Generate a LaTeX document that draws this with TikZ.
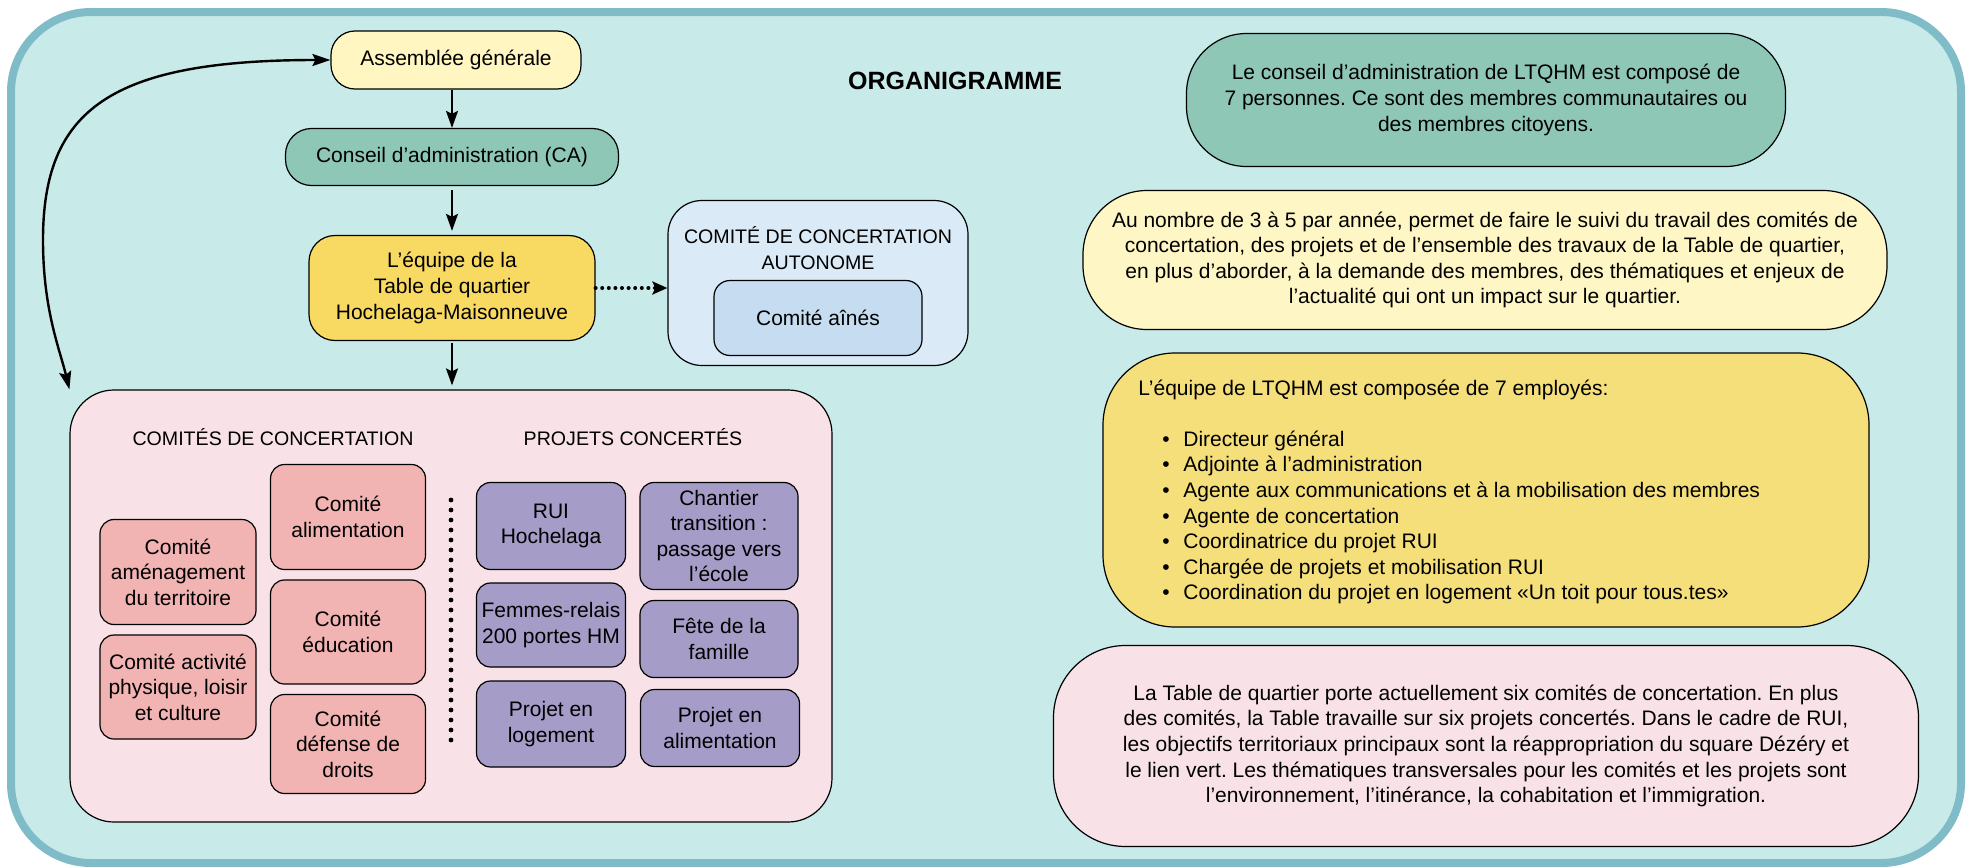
\documentclass[tikz,border=0pt]{standalone}
\usepackage{fontspec}
\setmainfont{Liberation Sans}
\usetikzlibrary{arrows.meta}
\frenchspacing
\definecolor{bgc}{HTML}{C8EAE9}
\definecolor{brd}{HTML}{7FBCC8}
\definecolor{agc}{HTML}{FFF6C1}
\definecolor{cac}{HTML}{8FC7B7}
\definecolor{eqc}{HTML}{F8D962}
\definecolor{auc}{HTML}{DAEAF7}
\definecolor{aic}{HTML}{C6DDF1}
\definecolor{pkc}{HTML}{F8E2E7}
\definecolor{rdc}{HTML}{F2B3B3}
\definecolor{puc}{HTML}{A59CC7}
\definecolor{lyc}{HTML}{FEF6C4}
\definecolor{yec}{HTML}{F5DF7A}
\newcommand{\txt}{\fontsize{10.5}{12.8}\selectfont}
\newcommand{\capt}{\fontsize{9.8}{12.8}\selectfont}
\newcommand{\bul}{\hspace*{12pt}\makebox[10.5pt][l]{\textbullet}}
\begin{document}
\begin{tikzpicture}[x=0.5pt,y=-0.5pt,
  box/.style={draw=black, line width=0.6pt, inner sep=0pt, align=center, font=\txt},
  smallbox/.style={box, rounded corners=7pt},
  redbox/.style={smallbox, fill=rdc, minimum width=77.5pt},
  purbox/.style={smallbox, fill=puc},
  arr/.style={line width=1pt, -{Stealth[length=8.5pt,width=6pt,inset=1.5pt]}},
  lbl/.style={inner sep=0pt, align=center, font=\txt},
  caplbl/.style={inner sep=0pt, align=center, font=\capt},
]
\useasboundingbox (0,0) rectangle (1971,867);
\draw[line width=4pt, draw=brd, fill=bgc, rounded corners=40pt] (11,12) rectangle (1961,863);

% title
\node[inner sep=0pt, font=\fontsize{12.5}{15}\selectfont\bfseries] (title) at (955,81) {ORGANIGRAMME};

% left chain
\node[box, fill=agc, rounded corners=12pt, minimum width=125pt, minimum height=29pt] (ag) at (456,60) {Assemblée générale};
\node[box, fill=cac, rounded corners=13pt, minimum width=166.5pt, minimum height=28.5pt] (ca) at (452,157) {Conseil d’administration (CA)};
\node[box, fill=eqc, rounded corners=13pt, minimum width=143pt, minimum height=52.5pt] (eq) at (452,288) {L’équipe de la\\Table de quartier\\Hochelaga-Maisonneuve};

\node[box, fill=auc, rounded corners=17pt, minimum width=150pt, minimum height=82.5pt] (auto) at (818,283) {};
\node[caplbl] (autolbl) at (818,248) {COMITÉ DE CONCERTATION\\AUTONOME};
\node[box, fill=aic, rounded corners=8pt, minimum width=104pt, minimum height=37.5pt] (ains) at (818,318) {Comité aînés};

% pink container
\node[box, fill=pkc, rounded corners=22pt, minimum width=381pt, minimum height=216pt] (pink) at (451,606) {};
\node[caplbl] (h1) at (273,437) {COMITÉS DE CONCERTATION};
\node[caplbl] (h2) at (633,437) {PROJETS CONCERTÉS};

\node[redbox, minimum width=78pt, minimum height=52.5pt] (r1) at (178,572) {Comité\\aménagement\\du territoire};
\node[redbox, minimum width=78pt, minimum height=52pt] (r2) at (178,687) {Comité activité\\physique, loisir\\et culture};
\node[redbox, minimum height=52.5pt] (r3) at (348,517) {Comité\\alimentation};
\node[redbox, minimum height=52pt] (r4) at (348,632) {Comité\\éducation};
\node[redbox, minimum height=49.5pt] (r5) at (348,744) {Comité\\défense de\\droits};

\coordinate (dtop) at (451,500);
\coordinate (dbot) at (451,742);
\draw[line width=2.4pt, line cap=round, dash pattern=on 0pt off 5pt] (dtop) -- (dbot);

\node[purbox, minimum width=74.5pt, minimum height=43.5pt] (p1) at (551,526) {RUI\\Hochelaga};
\node[purbox, minimum width=74.5pt, minimum height=42pt] (p2) at (551,625) {Femmes-relais\\200 portes HM};
\node[purbox, minimum width=74.5pt, minimum height=43pt] (p3) at (551,724) {Projet en\\logement};
\node[purbox, minimum width=79pt, minimum height=53.5pt] (p4) at (719,536) {Chantier\\transition :\\passage vers\\l’école};
\node[purbox, minimum width=79pt, minimum height=38.5pt] (p5) at (719,639) {Fête de la\\famille};
\node[purbox, minimum width=79.5pt, minimum height=38.5pt] (p6) at (720,728) {Projet en\\alimentation};

% connectors
\draw[arr] (ag.south -| ca.north) -- (ca.north);
\draw[arr, shorten >=2pt, shorten <=2pt] (ca.south) -- (eq.north);
\draw[arr, shorten >=2pt, shorten <=1pt] (eq.south) -- (pink.north -| eq.south);
\draw[line width=2pt, line cap=round, dash pattern=on 0pt off 3.3pt, -{Stealth[length=7.5pt,width=6.5pt,inset=1.5pt]}] (eq.east) -- (eq.east -| auto.west);
\coordinate (bend) at (43,240);
\draw[line width=1.2pt, {Stealth[length=9pt,width=6pt,inset=1.5pt]}-{Stealth[length=9pt,width=6pt,inset=1.5pt]}] (ag.west) .. controls (110,60) and (43,110) .. (bend) .. controls (43,310) and (60,350) .. (pink.north west);

% right side
\node[box, fill=cac, rounded corners=30pt, minimum width=299.5pt, minimum height=66.5pt] (g) at (1486,100) {Le conseil d’administration de LTQHM est composé de\\7 personnes. Ce sont des membres communautaires ou\\des membres citoyens.};
\node[box, fill=lyc, rounded corners=32pt, minimum width=402pt, minimum height=69.5pt] (ly) at (1485,260) {Au nombre de 3 à 5 par année, permet de faire le suivi du travail des comités de\\concertation, des projets et de l’ensemble des travaux de la Table de quartier,\\en plus d’aborder, à la demande des membres, des thématiques et enjeux de\\l’actualité qui ont un impact sur le quartier.};
\node[box, fill=yec, rounded corners=36pt, minimum width=383pt, minimum height=137pt] (ye) at (1486,490) {};
\node[inner sep=0pt, align=left, font=\txt, anchor=west] (yetext) at (1138,492) {L’équipe de LTQHM est composée de 7 employés:\\[12.8pt]
\bul Directeur général\\
\bul Adjointe à l’administration\\
\bul Agente aux communications et à la mobilisation des membres\\
\bul Agente de concertation\\
\bul Coordinatrice du projet RUI\\
\bul Chargée de projets et mobilisation RUI\\
\bul Coordination du projet en logement «Un toit pour tous.tes»};
\node[box, fill=pkc, rounded corners=36pt, minimum width=432.5pt, minimum height=100.5pt] (pk) at (1486,746) {La Table de quartier porte actuellement six comités de concertation. En plus\\des comités, la Table travaille sur six projets concertés. Dans le cadre de RUI,\\les objectifs territoriaux principaux sont la réappropriation du square Dézéry et\\le lien vert. Les thématiques transversales pour les comités et les projets sont\\l’environnement, l’itinérance, la cohabitation et l’immigration.};
\end{tikzpicture}
\end{document}
